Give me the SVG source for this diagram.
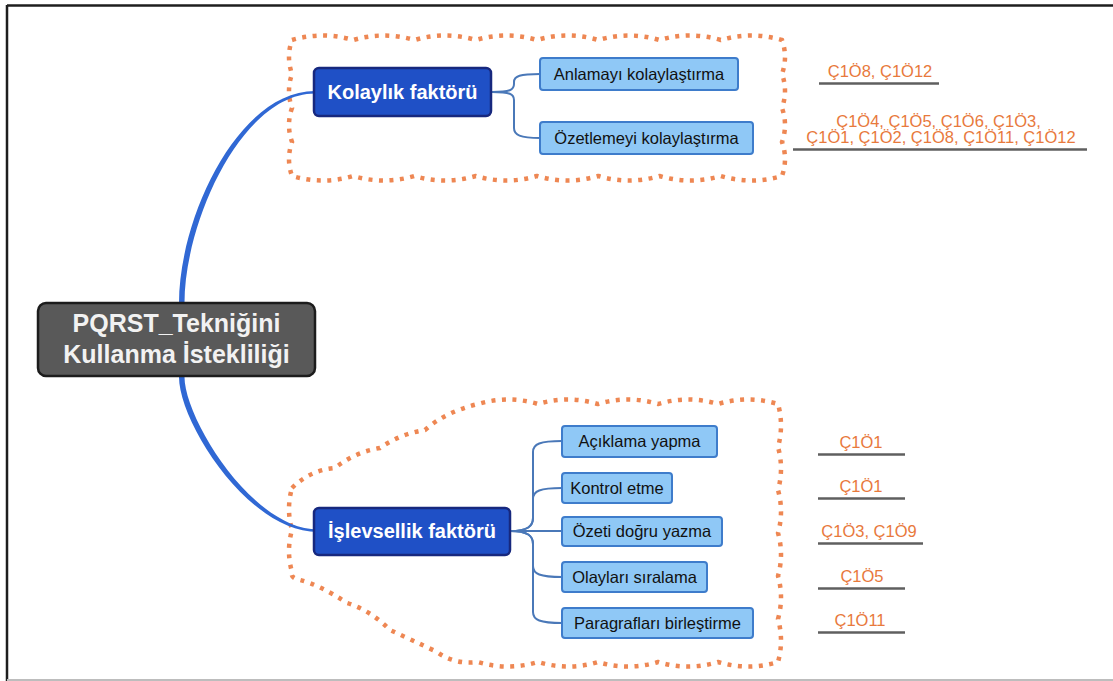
<svg xmlns="http://www.w3.org/2000/svg" width="1113" height="681" viewBox="0 0 1113 681">
  <defs>
    <style>
      .cloud { fill: none; stroke: #ee8753; stroke-width: 4.5; stroke-dasharray: 4 6.5; }
      .main-link { fill: #3068d4; }
      .branch { fill: none; stroke: #4a78b8; stroke-width: 2; }
      .root-box { fill: #595959; stroke: #1c1c1c; stroke-width: 2.5; }
      .root-text { font-family: "Liberation Sans", Arial, sans-serif; font-weight: bold; font-size: 25px; fill: #f2f2f2; text-anchor: middle; }
      .factor-box { fill: #1f50c6; stroke: #17287e; stroke-width: 2.5; }
      .factor-text { font-family: "Liberation Sans", Arial, sans-serif; font-weight: bold; font-size: 20px; fill: #ffffff; text-anchor: middle; }
      .leaf-box { fill: #8fc8f6; stroke: #3e7ccb; stroke-width: 2; }
      .leaf-text { font-family: "Liberation Sans", Arial, sans-serif; font-size: 16.5px; fill: #111111; text-anchor: middle; }
      .code-text { font-family: "Liberation Sans", Arial, sans-serif; font-size: 16.5px; fill: #e8793c; text-anchor: middle; }
      .underline { stroke: #5f5f5f; stroke-width: 2.5; }
    </style>
  </defs>

  <!-- frame -->
  <rect x="0" y="0" width="1113" height="681" fill="#ffffff"/>
  <line x1="7" y1="5.5" x2="1113" y2="5.5" stroke="#1e1e1e" stroke-width="2.5"/>
  <line x1="7" y1="5" x2="7" y2="681" stroke="#1e1e1e" stroke-width="2.5"/>
  <line x1="7" y1="680" x2="1113" y2="680" stroke="#bdbdbd" stroke-width="2"/>

  <!-- dotted cloud outlines around the two factor groups -->
  <g id="clouds">
    <path class="cloud" d="M292,40
      q30.6,-9 61.25,0 q30.6,-9 61.25,0 q30.6,-9 61.25,0 q30.6,-9 61.25,0
      q30.6,-9 61.25,0 q30.6,-9 61.25,0 q30.6,-9 61.25,0 q30.6,-9 61.25,0
      q6,17 0,34 q6,17 0,34 q6,17 0,34 q6,17 0,34
      q-30.6,9 -61.25,0 q-30.6,9 -61.25,0 q-30.6,9 -61.25,0 q-30.6,9 -61.25,0
      q-30.6,9 -61.25,0 q-30.6,9 -61.25,0 q-30.6,9 -61.25,0 q-30.6,9 -61.25,0
      q-6,-17 0,-34 q-6,-17 0,-34 q-6,-17 0,-34 q-6,-17 0,-34 Z"/>
    <path class="cloud" d="M292,488
      Q310,470 335,468 Q355,452 380,448 Q400,434 425,430 Q445,412 478,404
      q30,-9 60,0 q30,-9 60,0 q30,-9 60,0 q30,-9 60,0 q30,-9 60,0
      q6,21.5 0,43 q6,21.5 0,43 q6,21.5 0,43 q6,21.5 0,43 q6,21.5 0,43 q6,21.5 0,43
      q-30,9 -60,0 q-30,9 -60,0 q-30,9 -60,0 q-30,9 -60,0 q-30,9 -60,0
      Q455,665 437,652 Q412,640 390,630 Q370,610 347,603 Q320,585 300,580 Q290,578 292,572
      q-6,-21 0,-42 q-6,-21 0,-42 Z"/>
  </g>

  <!-- connectors -->
  <g id="connectors">
    <path class="main-link" d="M179,303 C179,218 238,91 315,91 L315,93.5 C242,93.5 184.5,222 184.5,303 Z"/>
    <path class="main-link" d="M179,377 C179,422 248,532 318,532 L318,529.5 C252,529.5 184.5,418 184.5,377 Z"/>

    <path class="branch" d="M492,92 C510,92 514,90 514,84 L514,82 C514,76 520,74 540,74"/>
    <path class="branch" d="M492,92 C510,92 514,94 514,100 L514,128 C514,135 520,138 540,138"/>

    <path class="branch" d="M510,531 C528,531 533,526 533,518 L533,452 C533,444 540,441 562,441"/>
    <path class="branch" d="M510,531 C528,531 533,526 533,518 L533,499 C533,491 540,488 562,488"/>
    <path class="branch" d="M510,531 L562,531"/>
    <path class="branch" d="M510,531 C528,531 533,536 533,544 L533,566 C533,574 540,577 562,577"/>
    <path class="branch" d="M510,531 C528,531 533,536 533,544 L533,612 C533,620 540,623 562,623"/>
  </g>

  <!-- root -->
  <g id="root">
    <rect class="root-box" x="38" y="303" width="277" height="73" rx="8"/>
    <text class="root-text" x="176.5" y="332">PQRST_Tekniğini</text>
    <text class="root-text" x="176.5" y="363">Kullanma İstekliliği</text>
  </g>

  <!-- ease factor -->
  <g id="kolaylik">
    <rect class="factor-box" x="314" y="68" width="177" height="48" rx="5"/>
    <text class="factor-text" x="402.5" y="99">Kolaylık faktörü</text>
  </g>
  <g id="anlamayi">
    <rect class="leaf-box" x="540" y="58" width="198" height="32" rx="3"/>
    <text class="leaf-text" x="639" y="80">Anlamayı kolaylaştırma</text>
  </g>
  <g id="ozetlemeyi">
    <rect class="leaf-box" x="540" y="122" width="213" height="32" rx="3"/>
    <text class="leaf-text" x="646.5" y="144">Özetlemeyi kolaylaştırma</text>
  </g>

  <!-- functionality factor -->
  <g id="islevsellik">
    <rect class="factor-box" x="314" y="508" width="196" height="47" rx="5"/>
    <text class="factor-text" x="412" y="538">İşlevsellik faktörü</text>
  </g>
  <g id="aciklama">
    <rect class="leaf-box" x="562" y="426" width="155" height="31" rx="3"/>
    <text class="leaf-text" x="639.5" y="447">Açıklama yapma</text>
  </g>
  <g id="kontrol">
    <rect class="leaf-box" x="562" y="473" width="110" height="30" rx="3"/>
    <text class="leaf-text" x="617" y="494">Kontrol etme</text>
  </g>
  <g id="ozeti">
    <rect class="leaf-box" x="562" y="517" width="160" height="29" rx="3"/>
    <text class="leaf-text" x="642" y="537">Özeti doğru yazma</text>
  </g>
  <g id="olaylari">
    <rect class="leaf-box" x="562" y="562" width="145" height="30" rx="3"/>
    <text class="leaf-text" x="634.5" y="583">Olayları sıralama</text>
  </g>
  <g id="paragraflari">
    <rect class="leaf-box" x="562" y="608" width="191" height="30" rx="3"/>
    <text class="leaf-text" x="657.5" y="629">Paragrafları birleştirme</text>
  </g>

  <!-- participant codes -->
  <g id="codes">
    <text class="code-text" x="880" y="77">Ç1Ö8, Ç1Ö12</text>
    <line class="underline" x1="819" y1="83.5" x2="939" y2="83.5"/>

    <text class="code-text" x="938.5" y="127">Ç1Ö4, Ç1Ö5, Ç1Ö6, Ç1Ö3,</text>
    <text class="code-text" x="941" y="143">Ç1Ö1, Ç1Ö2, Ç1Ö8, Ç1Ö11, Ç1Ö12</text>
    <line class="underline" x1="793" y1="149.5" x2="1087" y2="149.5"/>

    <text class="code-text" x="861" y="448">Ç1Ö1</text>
    <line class="underline" x1="818" y1="454.5" x2="905" y2="454.5"/>

    <text class="code-text" x="861" y="492">Ç1Ö1</text>
    <line class="underline" x1="818" y1="498.5" x2="905" y2="498.5"/>

    <text class="code-text" x="869" y="537">Ç1Ö3, Ç1Ö9</text>
    <line class="underline" x1="818" y1="543.5" x2="923" y2="543.5"/>

    <text class="code-text" x="862" y="582">Ç1Ö5</text>
    <line class="underline" x1="818" y1="588.5" x2="905" y2="588.5"/>

    <text class="code-text" x="860" y="626">Ç1Ö11</text>
    <line class="underline" x1="818" y1="632.5" x2="905" y2="632.5"/>
  </g>
</svg>
